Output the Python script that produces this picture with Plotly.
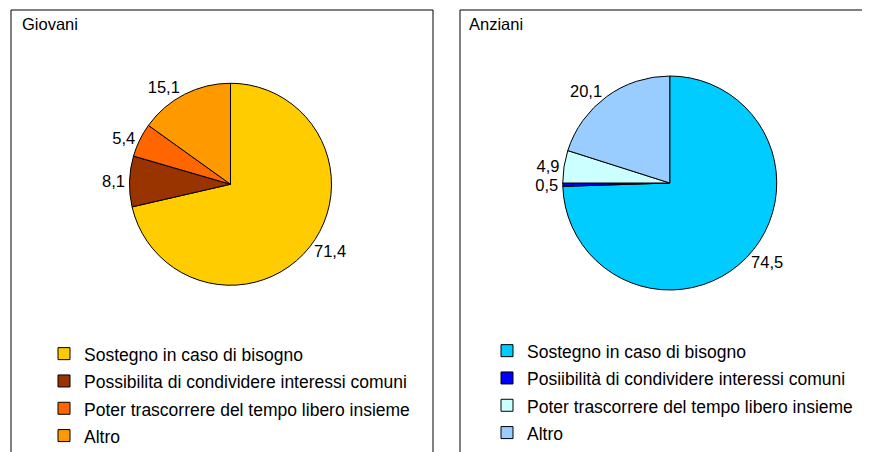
import plotly.graph_objects as go

# Motivi per cui si ritiene importante avere amici (%)
categorie_giovani = [
    "Sostegno in caso di bisogno",
    "Possibilita di condividere interessi comuni",
    "Poter trascorrere del tempo libero insieme",
    "Altro",
]
valori_giovani = [71.4, 8.1, 5.4, 15.1]

categorie_anziani = [
    "Sostegno in caso di bisogno",
    "Posiibilità di condividere interessi comuni",
    "Poter trascorrere del tempo libero insieme",
    "Altro",
]
valori_anziani = [74.5, 0.5, 4.9, 20.1]

colori_giovani = ["#FFCC00", "#993300", "#FF6600", "#FF9900"]
colori_anziani = ["#00CCFF", "#0000FF", "#CCFFFF", "#99CCFF"]

W, H = 870, 452
OFF = 8  # margine del body della pagina html
FONT = "Liberation Sans, Arial, sans-serif"


def px(x):
    return (x - OFF) / W


def py(y):
    return 1 - (y - OFF) / H


def span(s, stile):
    # testo della legenda più piccolo del passo tra le voci
    return f"<span style='{stile}'>{s}</span>"


fig = go.Figure()

fig.add_trace(go.Pie(
    labels=[span(c, "font-size:17.5px") for c in categorie_giovani],
    values=valori_giovani,
    sort=False,
    direction="clockwise",
    rotation=0,
    marker=dict(colors=colori_giovani, line=dict(color="black", width=1)),
    texttemplate="%{value:.1f}",
    textposition="outside",
    outsidetextfont=dict(size=16.5, color="black", family=FONT),
    domain=dict(x=[px(129.5), px(331.5)], y=[py(286), py(82.5)]),
    legend="legend",
    hoverinfo="label+value",
))

fig.add_trace(go.Pie(
    labels=[span(c, "font-size:17.5px;color:black") for c in categorie_anziani],
    values=valori_anziani,
    sort=False,
    direction="clockwise",
    rotation=0,
    marker=dict(colors=colori_anziani, line=dict(color="black", width=1)),
    texttemplate="%{value:.1f}",
    textposition="outside",
    outsidetextfont=dict(size=16.5, color="black", family=FONT),
    domain=dict(x=[px(562.5), px(777)], y=[py(290), py(76)]),
    legend="legend2",
    hoverinfo="label+value",
))

# riquadri dei due grafici
fig.add_shape(type="rect", xref="paper", yref="paper",
              x0=px(11), x1=px(433), y0=-0.05, y1=py(10),
              line=dict(color="black", width=1), fillcolor="rgba(0,0,0,0)")
fig.add_shape(type="rect", xref="paper", yref="paper",
              x0=px(460), x1=1.05, y0=-0.05, y1=py(10),
              line=dict(color="black", width=1), fillcolor="rgba(0,0,0,0)")

fig.add_annotation(text="Giovani", xref="paper", yref="paper",
                   x=px(20), y=py(24.5), xanchor="left", yanchor="middle",
                   showarrow=False, font=dict(size=16.5, color="black", family=FONT))
fig.add_annotation(text="Anziani", xref="paper", yref="paper",
                   x=px(467), y=py(24.5), xanchor="left", yanchor="middle",
                   showarrow=False, font=dict(size=16.5, color="black", family=FONT))

legend_style = dict(
    font=dict(size=18.7, color="black", family=FONT),
    bgcolor="rgba(0,0,0,0)",
    borderwidth=0,
    xanchor="left",
    yanchor="top",
    itemclick=False,
    itemdoubleclick=False,
)

fig.update_layout(
    width=W,
    height=H,
    margin=dict(l=0, r=0, t=0, b=0),
    paper_bgcolor="white",
    plot_bgcolor="white",
    separators=",.",
    font=dict(family=FONT, color="black"),
    showlegend=True,
    legend=dict(x=px(44), y=py(335), **legend_style),
    legend2=dict(x=px(487), y=py(332), **legend_style),
)

fig.write_html("out.html")
